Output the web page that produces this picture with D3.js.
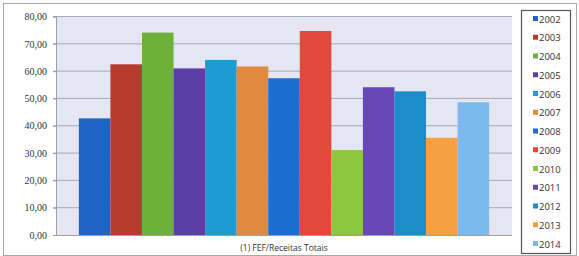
<!DOCTYPE html>
<html><head><meta charset="utf-8">
<script src="https://cdn.jsdelivr.net/npm/d3@7"></script>
<style>body{margin:0;background:#fff}svg{display:block}</style>
</head><body>
<svg id="c" width="579" height="256"></svg>
<script>
const category = ["(1) FEF/Receitas Totais"];
const years = ["2002","2003","2004","2005","2006","2007","2008","2009","2010","2011","2012","2013","2014"];
const values = [42.7, 62.5, 74.1, 61.0, 64.1, 61.7, 57.4, 74.7, 31.1, 54.1, 52.6, 35.6, 48.6];
const colors = ["#1f63c4","#b83b2f","#6cb23a","#5a3fa6","#1f9bd2","#df8a3e","#1b6fd2","#e2493a","#8dc63f","#6548b6","#1d8dca","#f6a043","#7cbaee"];
const yTicks = [0,10,20,30,40,50,60,70,80];

const svg = d3.select("#c");
// outer frame
svg.append("rect").attr("x",3.5).attr("y",3.5).attr("width",573).attr("height",252)
  .attr("fill","#fff").attr("stroke","#a8a8a8");

const m = {l:56, r:512, t:16.5, b:235};
svg.append("rect").attr("x",m.l).attr("y",m.t).attr("width",m.r-m.l).attr("height",m.b-m.t)
  .attr("fill","#e6e6f3");

const y = d3.scaleLinear().domain([0,80]).range([m.b,m.t]);
const x0 = d3.scaleBand().domain(category).range([m.l,m.r]).paddingOuter(0.0557).paddingInner(0);
const x1 = d3.scaleBand().domain(years).range([0, x0.bandwidth()]).padding(0);

// gridlines
svg.append("g").selectAll("line").data(yTicks.slice(1)).join("line")
  .attr("x1",m.l-3).attr("x2",m.r).attr("y1",d=>y(d)).attr("y2",d=>y(d))
  .attr("stroke","#a9a9b4").attr("stroke-width",1);

const yAxis = d3.axisLeft(y).tickValues(yTicks).tickSize(3).tickPadding(6)
  .tickFormat(d=>d3.format(".2f")(d).replace(".",","));
const ga = svg.append("g").attr("transform",`translate(${m.l},0)`).call(yAxis);
ga.select(".domain").attr("stroke","#a0a0a0");
ga.selectAll(".tick line").attr("stroke","#a0a0a0");
ga.selectAll("text").attr("font-family","'Liberation Serif', serif").attr("font-size",10).attr("fill","#333");

const g = svg.append("g").selectAll("g").data(category).join("g")
  .attr("transform",d=>`translate(${x0(d)},0)`);
g.selectAll("rect").data(years.map((yr,i)=>({yr,v:values[i],c:colors[i]}))).join("rect")
  .attr("x",d=>x1(d.yr)).attr("width",x1.bandwidth())
  .attr("y",d=>y(d.v)).attr("height",d=>y(0)-y(d.v)).attr("fill",d=>d.c);

svg.append("line").attr("x1",m.l).attr("x2",m.r).attr("y1",m.b+0.5).attr("y2",m.b+0.5).attr("stroke","#a0a0a0");

svg.append("g").selectAll("text").data(category).join("text")
  .attr("x",d=>x0(d)+x0.bandwidth()/2).attr("y",251)
  .attr("text-anchor","middle").attr("font-family","'Open Sans', sans-serif").attr("font-size",8.5).attr("fill","#333")
  .text(d=>d);

// legend
const lg = svg.append("g");
lg.append("rect").attr("x",521.5).attr("y",10.5).attr("width",49).attr("height",243)
  .attr("fill","#fff").attr("stroke","#555").attr("stroke-width",1.2);
const ly = d3.scalePoint().domain(years).range([19,244]);
const items = lg.selectAll("g").data(years).join("g").attr("transform",d=>`translate(533,${ly(d)})`);
items.append("rect").attr("x",0).attr("y",-3).attr("width",5).attr("height",5).attr("fill",(d,i)=>colors[i]);
items.append("text").attr("x",6).attr("y",3.5).attr("font-family","'Open Sans', sans-serif").attr("font-size",9.5).attr("fill","#333").text(d=>d);
</script>
</body></html>
